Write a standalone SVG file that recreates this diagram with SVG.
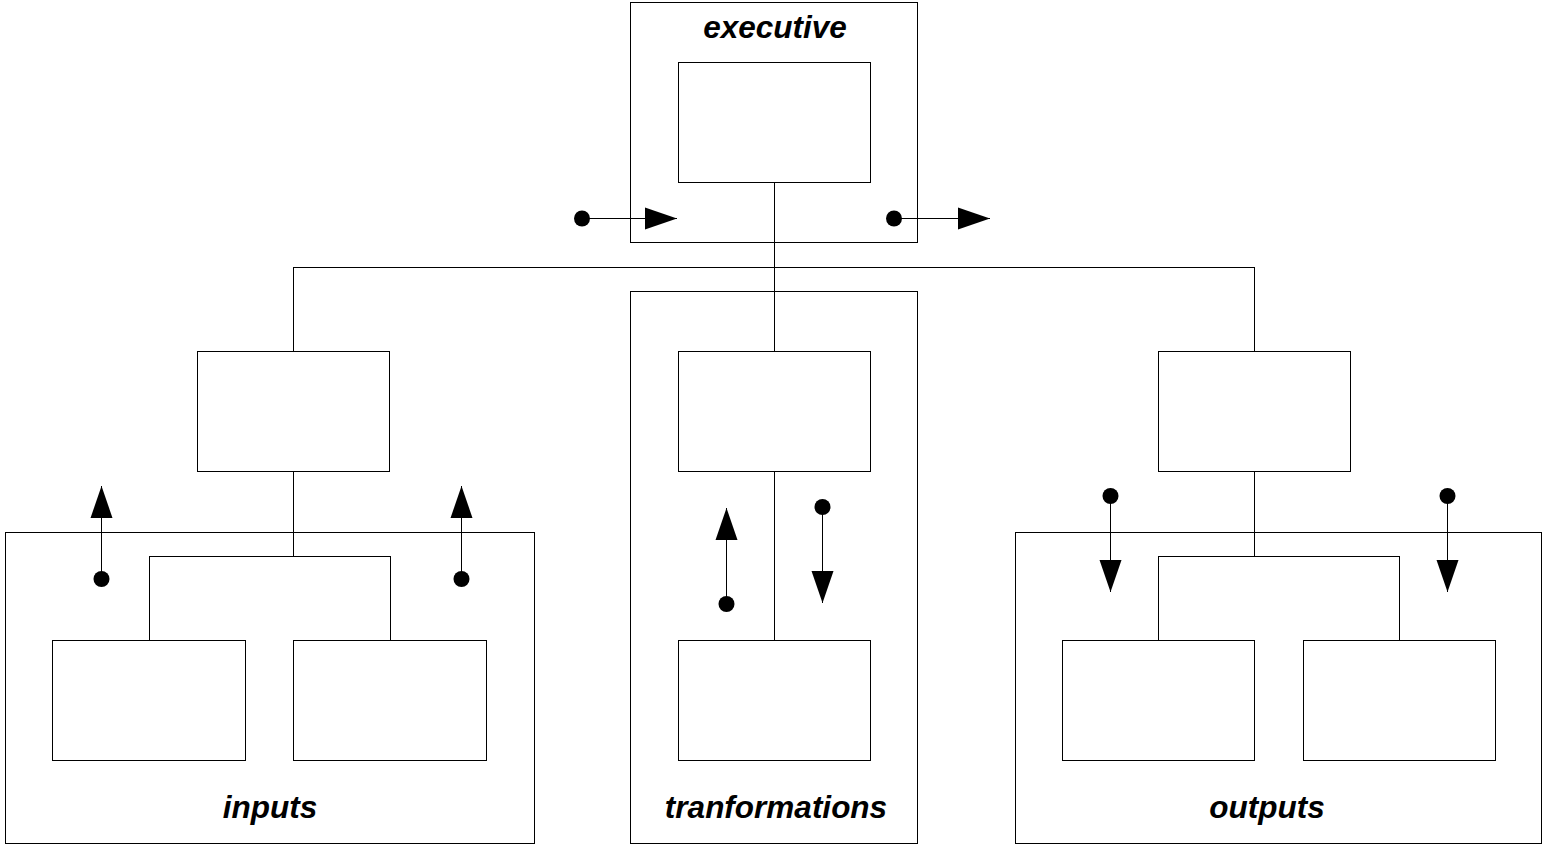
<svg xmlns="http://www.w3.org/2000/svg" width="1544" height="845" viewBox="0 0 1544 845">
  <style>
    .box { fill: #fff; stroke: #000; stroke-width: 1; }
    .frame { fill: none; stroke: #000; stroke-width: 1; }
    .wire { fill: none; stroke: #000; stroke-width: 1; }
    .flow { fill: none; stroke: #000; stroke-width: 1; marker-start: url(#dot); marker-end: url(#head); }
    .label { font-family: "Liberation Sans", Arial, Helvetica, sans-serif; font-size: 31.5px; font-weight: bold; font-style: italic; text-anchor: middle; fill: #000; }
  </style>
  <defs>
    <marker id="head" markerUnits="userSpaceOnUse" markerWidth="32" markerHeight="22" refX="32" refY="11" orient="auto" overflow="visible">
      <path d="M0,0 L32,11 L0,22 Z" fill="#000"/>
    </marker>
    <marker id="dot" markerUnits="userSpaceOnUse" markerWidth="16" markerHeight="16" refX="8" refY="8" orient="auto" overflow="visible">
      <circle cx="8" cy="8" r="8" fill="#000"/>
    </marker>
  </defs>
  <rect width="1544" height="845" fill="#fff"/>

  <!-- subsystem frames -->
  <g id="executive">
    <rect class="frame" x="630.5" y="2.5" width="287" height="240"/>
    <text class="label" x="775" y="38">executive</text>
    <rect class="box" x="678.5" y="62.5" width="192" height="120"/>
  </g>
  <g id="inputs">
    <rect class="frame" x="5.5" y="532.5" width="529" height="311"/>
    <text class="label" x="270" y="818">inputs</text>
  </g>
  <g id="transformations">
    <rect class="frame" x="630.5" y="291.5" width="287" height="552"/>
    <text class="label" x="776" y="818">tranformations</text>
  </g>
  <g id="outputs">
    <rect class="frame" x="1015.5" y="532.5" width="526" height="311"/>
    <text class="label" x="1267" y="818">outputs</text>
  </g>

  <!-- connectors -->
  <g id="connectors">
    <path class="wire" d="M774.5,183 V351 M293.5,267.5 H1254.5 M293.5,267 V351 M1254.5,267 V351"/>
    <path class="wire" d="M293.5,471 V556.5 M149.5,556.5 H390.5 M149.5,556 V640 M390.5,556 V640"/>
    <path class="wire" d="M774.5,471 V640"/>
    <path class="wire" d="M1254.5,471 V556.5 M1158.5,556.5 H1399.5 M1158.5,556 V640 M1399.5,556 V640"/>
    <line class="flow" x1="582" y1="218.5" x2="677" y2="218.5"/>
    <line class="flow" x1="894" y1="218.5" x2="990" y2="218.5"/>
    <line class="flow" x1="101.5" y1="579" x2="101.5" y2="486"/>
    <line class="flow" x1="461.5" y1="579" x2="461.5" y2="486"/>
    <line class="flow" x1="726.5" y1="604" x2="726.5" y2="508"/>
    <line class="flow" x1="822.5" y1="507" x2="822.5" y2="603"/>
    <line class="flow" x1="1110.5" y1="496" x2="1110.5" y2="592"/>
    <line class="flow" x1="1447.5" y1="496" x2="1447.5" y2="592"/>
  </g>

  <!-- inner blocks -->
  <g id="input-head"><rect class="box" x="197.5" y="351.5" width="192" height="120"/></g>
  <g id="input-a"><rect class="box" x="52.5" y="640.5" width="193" height="120"/></g>
  <g id="input-b"><rect class="box" x="293.5" y="640.5" width="193" height="120"/></g>
  <g id="transform-head"><rect class="box" x="678.5" y="351.5" width="192" height="120"/></g>
  <g id="transform-a"><rect class="box" x="678.5" y="640.5" width="192" height="120"/></g>
  <g id="output-head"><rect class="box" x="1158.5" y="351.5" width="192" height="120"/></g>
  <g id="output-a"><rect class="box" x="1062.5" y="640.5" width="192" height="120"/></g>
  <g id="output-b"><rect class="box" x="1303.5" y="640.5" width="192" height="120"/></g>
</svg>
